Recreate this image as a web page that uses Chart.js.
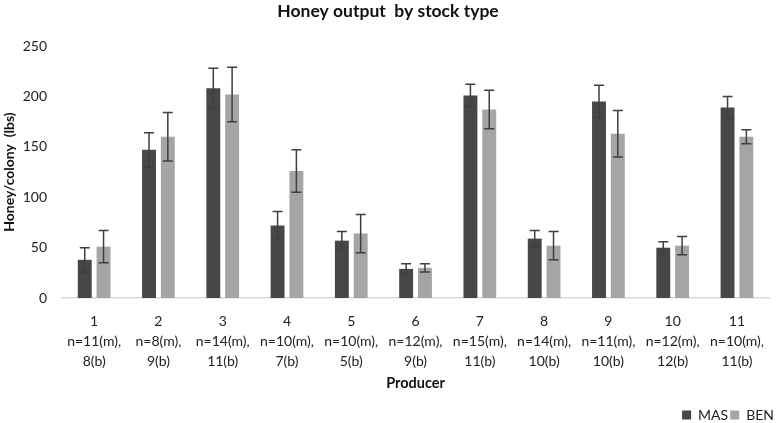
<!DOCTYPE html>
<html>
<head>
<meta charset="utf-8">
<script src="https://cdn.jsdelivr.net/npm/chart.js@4.4.1/dist/chart.umd.min.js"></script>
<style>
    html, body { margin: 0; padding: 0; background: #fff; }
    #wrap { width: 777px; height: 423px; position: relative; }
</style>
</head>
<body>
<div id="wrap"><canvas id="grafico"></canvas></div>
<script>
// producer labels (number + sample sizes)
const productores = [
    ["1", "n=11(m),", "8(b)"],
    ["2", "n=8(m),", "9(b)"],
    ["3", "n=14(m),", "11(b)"],
    ["4", "n=10(m),", "7(b)"],
    ["5", "n=10(m),", "5(b)"],
    ["6", "n=12(m),", "9(b)"],
    ["7", "n=15(m),", "11(b)"],
    ["8", "n=14(m),", "10(b)"],
    ["9", "n=11(m),", "10(b)"],
    ["10", "n=12(m),", "12(b)"],
    ["11", "n=10(m),", "11(b)"]
];

const mas = [38, 147, 208, 72, 57, 29, 201, 59, 195, 50, 189];
const masError = [12, 17, 20, 14, 9, 5, 11, 8, 16, 6, 11];

const ben = [51, 160, 202, 126, 64, 30, 187, 52, 163, 52, 160];
const benError = [16, 24, 27, 21, 19, 4, 19, 14, 23, 9, 7];

const yTicks = [0, 50, 100, 150, 200, 250];

const fuente = "Lato, 'Open Sans', sans-serif";

// barras de error dibujadas sobre las barras
const erroresPlugin = {
    id: "errores",
    afterDatasetsDraw(chart) {
        const ctx = chart.ctx;
        const y = chart.scales.y;
        chart.data.datasets.forEach((ds, i) => {
            const meta = chart.getDatasetMeta(i);
            meta.data.forEach((bar, j) => {
                const v = ds.data[j];
                const e = ds.errores[j];
                const top = y.getPixelForValue(v + e);
                const bottom = y.getPixelForValue(v - e);
                ctx.save();
                ctx.strokeStyle = "#3f3f3f";
                ctx.lineWidth = 1.5;
                ctx.beginPath();
                ctx.moveTo(bar.x, top);
                ctx.lineTo(bar.x, bottom);
                ctx.moveTo(bar.x - 5, top);
                ctx.lineTo(bar.x + 5, top);
                ctx.moveTo(bar.x - 5, bottom);
                ctx.lineTo(bar.x + 5, bottom);
                ctx.stroke();
                ctx.restore();
            });
        });
    }
};

new Chart(document.getElementById("grafico").getContext("2d"), {
    type: "bar",
    data: {
        labels: productores,
        datasets: [
            {
                label: "MAS",
                data: mas,
                errores: masError,
                backgroundColor: "#474747",
                categoryPercentage: 0.585,
                barPercentage: 0.74
            },
            {
                label: "BEN",
                data: ben,
                errores: benError,
                backgroundColor: "#a5a5a5",
                categoryPercentage: 0.585,
                barPercentage: 0.74
            }
        ]
    },
    options: {
        responsive: true,
        maintainAspectRatio: false,
        animation: false,
        layout: { padding: { left: 0, right: 1, top: 1, bottom: -9 } },
        plugins: {
            title: {
                display: true,
                text: "Honey output  by stock type",
                color: "#111",
                font: { family: fuente, size: 17.5, weight: "bold" },
                padding: { top: 0, bottom: 24 }
            },
            legend: {
                position: "bottom",
                align: "end",
                labels: {
                    boxWidth: 9,
                    boxHeight: 9,
                    padding: 2,
                    color: "#222",
                    font: { family: fuente, size: 14 }
                }
            },
            tooltip: { enabled: false }
        },
        scales: {
            x: {
                grid: { display: false, drawTicks: false },
                border: { color: "#d9d9d9", width: 1.5 },
                ticks: {
                    color: "#222",
                    maxRotation: 0,
                    autoSkip: false,
                    padding: 13,
                    font: { family: fuente, size: 14, lineHeight: 1.44 }
                },
                title: {
                    display: true,
                    text: "Producer",
                    color: "#111",
                    font: { family: fuente, size: 14.5, weight: "bold" },
                    padding: { top: -10, bottom: 14 }
                }
            },
            y: {
                min: 0,
                max: 250,
                grid: { display: false, drawTicks: false },
                border: { display: false },
                afterBuildTicks: scale => {
                    scale.ticks = yTicks.map(v => ({ value: v }));
                },
                afterFit: scale => { scale.width = 62; },
                ticks: {
                    color: "#222",
                    padding: 15,
                    font: { family: fuente, size: 14 }
                },
                title: {
                    display: true,
                    text: "Honey/colony  (lbs)",
                    color: "#111",
                    font: { family: fuente, size: 14, weight: "bold" },
                    padding: { top: 1, bottom: 0 }
                }
            }
        }
    },
    plugins: [erroresPlugin]
});
</script>
</body>
</html>
